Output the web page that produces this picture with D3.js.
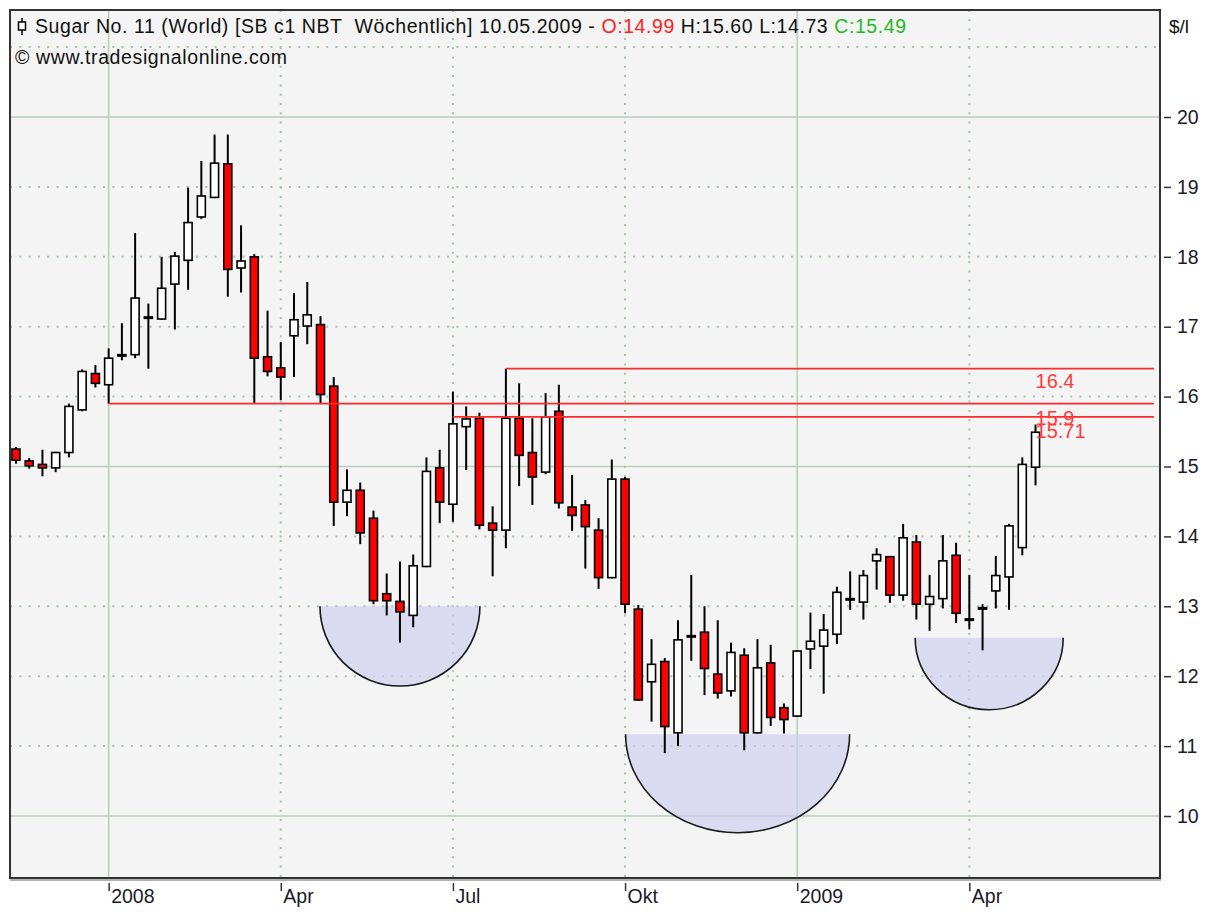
<!DOCTYPE html>
<html>
<head>
<meta charset="utf-8">
<script src="https://cdn.jsdelivr.net/npm/d3@7"></script>
<style>
  body { margin: 0; background: #fff; }
  svg { display: block; font-family: "Liberation Sans", Arial, sans-serif; }
</style>
</head>
<body>
<svg id="chart" width="1205" height="912"></svg>
<script>
// Weekly candles, Sugar No. 11 (index 0 = mid Nov 2007, index 77 = week of 10.05.2009)
var open  = [15.25,15.08,15.03,14.98,15.20,15.81,16.33,16.17,16.58,16.60,17.12,17.11,17.61,17.95,18.57,18.85,19.33,17.84,18.00,16.57,
             16.41,16.87,17.01,17.03,16.15,14.49,14.66,14.26,13.18,13.07,12.87,13.57,14.98,14.46,15.57,15.69,14.19,14.09,15.69,15.20,
             14.92,15.79,14.42,14.45,14.09,13.41,14.82,12.96,11.92,12.21,11.19,12.56,12.63,12.03,11.79,12.30,11.19,12.19,11.55,11.43,
             12.39,12.43,12.60,13.09,13.06,13.65,13.71,13.16,13.92,13.03,13.11,13.73,12.80,12.96,13.22,13.42,13.84,14.99];
var high  = [15.28,15.12,15.24,15.21,15.90,16.39,16.45,16.69,17.05,18.34,17.33,18.00,18.07,18.99,19.37,19.75,19.75,18.45,18.04,17.23,
             16.78,17.48,17.64,17.15,16.28,14.96,14.77,14.37,13.47,13.64,13.74,15.13,15.24,16.07,15.86,15.77,14.43,16.40,16.19,15.69,
             16.05,16.17,14.88,14.52,14.26,15.10,14.85,13.02,12.53,12.26,12.80,13.45,13.00,12.80,12.48,12.40,12.53,12.45,11.61,12.37,
             12.91,12.89,13.28,13.50,13.52,13.83,13.72,14.18,14.02,13.45,14.02,13.91,13.45,13.03,13.72,14.18,15.13,15.60];
var low   = [15.04,14.97,14.86,14.92,15.13,15.79,16.13,15.90,16.52,16.55,16.40,17.10,16.96,17.53,18.54,18.84,17.43,17.49,15.91,16.29,
             15.95,16.28,16.75,15.90,14.15,14.29,13.89,13.03,12.87,12.48,12.70,13.56,14.19,14.21,14.95,14.10,13.43,13.83,14.72,14.45,
             14.89,14.40,14.08,13.54,13.25,13.40,12.90,11.65,11.35,10.90,11.00,12.22,11.73,11.68,11.71,10.94,11.18,11.29,11.18,11.42,
             12.10,11.75,12.46,12.95,12.81,13.24,13.05,13.08,12.81,12.65,12.97,12.76,12.67,12.37,12.97,12.95,13.73,14.73];
var close = [15.09,15.01,14.98,15.20,15.86,16.36,16.19,16.55,16.60,17.41,17.14,17.55,18.01,18.49,18.87,19.34,17.82,17.94,16.55,16.36,
             16.28,17.10,17.17,16.03,14.49,14.66,14.05,13.08,13.08,12.92,13.58,14.93,14.49,15.61,15.68,14.16,14.09,15.69,15.16,14.85,
             15.71,14.48,14.30,14.14,13.41,14.82,13.03,11.66,12.17,11.28,12.52,12.58,12.11,11.76,12.34,11.19,12.12,11.41,11.38,12.36,
             12.50,12.66,13.20,13.11,13.44,13.74,13.16,13.98,13.03,13.14,13.65,12.90,12.82,12.98,13.44,14.15,15.03,15.49];

// axis ticks
var monthTickIndex = [7, 20, 33, 46, 59, 72];
var monthTickLabel = ["2008", "Apr", "Jul", "Okt", "2009", "Apr"];
var monthTickMajor = [true, false, false, false, true, false];
var priceTicks = [10, 11, 12, 13, 14, 15, 16, 17, 18, 19, 20];
var priceGrid  = [10, 11, 12, 13, 14, 15, 16, 17, 18, 19, 20, 21];
var priceMajor = [10, 15, 20];

// horizontal resistance lines: start bar, price, label
var levelStart = [7, 33, 37];
var levelValue = [15.9, 15.71, 16.4];
var levelLabel = ["15.9", "15.71", "16.4"];

// bowl annotations (centre bar, top price, half width in bars, bottom price)
var bowlCenter = [29.0, 54.5, 73.5];
var bowlTop    = [13.0, 11.17, 12.55];
var bowlHalf   = [6.04, 8.46, 5.59];
var bowlBottom = [11.86, 9.76, 11.52];

var svg = d3.select("#chart");
var plot = {left: 10, top: 10, right: 1160, bottom: 878};

var x = d3.scaleLinear().domain([-0.45, 86.4]).range([plot.left, plot.right]);
var y = d3.scaleLinear().domain([9.113, 21.531]).range([plot.bottom, plot.top]);

svg.append("rect")
   .attr("x", plot.left).attr("y", plot.top)
   .attr("width", plot.right - plot.left).attr("height", plot.bottom - plot.top)
   .attr("fill", "#f4f4f4");

// grid
var grid = svg.append("g");
grid.selectAll("line.h").data(priceGrid).enter().append("line")
    .attr("x1", plot.left).attr("x2", plot.right)
    .attr("y1", function(d) { return y(d); })
    .attr("y2", function(d) { return y(d); })
    .attr("stroke", function(d) { return priceMajor.indexOf(d) >= 0 ? "#b9cdb9" : "#a8c4a8"; })
    .attr("stroke-width", function(d) { return priceMajor.indexOf(d) >= 0 ? 1.5 : 2; })
    .attr("stroke-dasharray", function(d) { return priceMajor.indexOf(d) >= 0 ? null : "2,7.3"; });

grid.selectAll("line.v").data(monthTickIndex).enter().append("line")
    .attr("y1", plot.top).attr("y2", plot.bottom)
    .attr("x1", function(d) { return x(d); })
    .attr("x2", function(d) { return x(d); })
    .attr("stroke", function(d, i) { return monthTickMajor[i] ? "#b9cdb9" : "#a8c4a8"; })
    .attr("stroke-width", function(d, i) { return monthTickMajor[i] ? 1.5 : 2; })
    .attr("stroke-dasharray", function(d, i) { return monthTickMajor[i] ? null : "2,7.3"; });

// bowls
var bowls = svg.append("g");
bowlCenter.forEach(function(c, i) {
  var x0 = x(c - bowlHalf[i]), x1 = x(c + bowlHalf[i]);
  var yt = y(bowlTop[i]);
  var rx = (x1 - x0) / 2, ry = y(bowlBottom[i]) - yt;
  var arc = "M" + x0 + "," + yt + " A" + rx + "," + ry + " 0 0 0 " + x1 + "," + yt;
  bowls.append("path").attr("d", arc + " Z")
       .attr("fill", "rgb(205,205,240)").attr("fill-opacity", 0.65);
  bowls.append("path").attr("d", arc)
       .attr("fill", "none").attr("stroke", "#1a1a1a").attr("stroke-width", 1.6);
});

// candles
var idx = d3.range(open.length);
var bw = 8;
var candles = svg.append("g");
candles.selectAll("line.wick").data(idx).enter().append("line")
    .attr("x1", function(i) { return x(i); })
    .attr("x2", function(i) { return x(i); })
    .attr("y1", function(i) { return y(high[i]); })
    .attr("y2", function(i) { return y(low[i]); })
    .attr("stroke", "#000").attr("stroke-width", 2);

candles.selectAll("rect.body").data(idx).enter().append("rect")
    .attr("x", function(i) { return x(i) - bw / 2; })
    .attr("y", function(i) { return y(Math.max(open[i], close[i])); })
    .attr("width", bw)
    .attr("height", function(i) { return Math.max(1, Math.abs(y(open[i]) - y(close[i]))); })
    .attr("fill", function(i) { return close[i] < open[i] ? "#ff0000" : "#ffffff"; })
    .attr("stroke", "#000").attr("stroke-width", 1.6);

// resistance lines
var levels = svg.append("g");
levelValue.forEach(function(v, i) {
  levels.append("line")
        .attr("x1", x(levelStart[i])).attr("x2", plot.right - 6)
        .attr("y1", y(v)).attr("y2", y(v))
        .attr("stroke", "#ff2a2a").attr("stroke-width", 1.6);
});
// labels sit just under their line, as in the original (15.9 and 15.71 crowd each other there)
var labelDy = [21, 21, 19];
levelValue.forEach(function(v, i) {
  levels.append("text")
        .attr("x", x(77)).attr("y", y(v) + labelDy[i])
        .attr("fill", "#ff3b3b").attr("font-size", 20)
        .text(levelLabel[i]);
});

// frame
svg.append("rect")
   .attr("x", plot.left).attr("y", plot.top)
   .attr("width", plot.right - plot.left).attr("height", plot.bottom - plot.top)
   .attr("fill", "none").attr("stroke", "#333").attr("stroke-width", 2);
svg.append("line").attr("x1", plot.left).attr("x2", plot.right + 1)
   .attr("y1", plot.bottom + 2).attr("y2", plot.bottom + 2)
   .attr("stroke", "#999").attr("stroke-width", 1.5);

// right price axis
var yAxis = svg.append("g")
   .attr("transform", "translate(" + (plot.right + 4) + ",0)")
   .call(d3.axisRight(y).tickValues(priceTicks).tickSize(7).tickPadding(6).tickFormat(d3.format("d")));
yAxis.select(".domain").remove();
yAxis.selectAll("line").attr("stroke", "#333").attr("stroke-width", 1.5);
yAxis.selectAll("text").attr("font-size", 19.5).attr("fill", "#1a1a2a")
     .attr("font-family", "Liberation Sans, Arial, sans-serif");

// bottom date axis
var xAxis = svg.append("g")
   .attr("transform", "translate(0," + (plot.bottom + 5) + ")")
   .call(d3.axisBottom(x).tickValues(monthTickIndex).tickSize(8).tickFormat(function(d, i) { return monthTickLabel[i]; }));
xAxis.select(".domain").remove();
xAxis.selectAll("line").attr("stroke", "#333").attr("stroke-width", 1.5);
xAxis.selectAll("text").attr("font-size", 19.5).attr("fill", "#1a1a2a")
     .attr("font-family", "Liberation Sans, Arial, sans-serif")
     .attr("text-anchor", "start").attr("x", 2).attr("y", 6).attr("dy", "0.71em");

// title
var icon = svg.append("g").attr("transform", "translate(22,18)");
icon.append("line").attr("x1", 0).attr("x2", 0).attr("y1", 0).attr("y2", 17)
    .attr("stroke", "#000").attr("stroke-width", 1.5);
icon.append("rect").attr("x", -3.5).attr("y", 4).attr("width", 7).attr("height", 8)
    .attr("fill", "#fff").attr("stroke", "#000").attr("stroke-width", 1.5);

var title = svg.append("text").attr("x", 35).attr("y", 33).attr("font-size", 19.5).attr("fill", "#111")
   .attr("textLength", 871).attr("lengthAdjust", "spacing");
title.append("tspan").text("Sugar No. 11 (World) [SB c1 NBT\u00a0\u00a0Wöchentlich] 10.05.2009 - ");
title.append("tspan").attr("fill", "#ff2020").text("O:14.99");
title.append("tspan").text(" H:15.60 L:14.73 ");
title.append("tspan").attr("fill", "#22bb22").text("C:15.49");

svg.append("text").attr("x", 15).attr("y", 64).attr("font-size", 19.5).attr("fill", "#111")
   .attr("textLength", 272).attr("lengthAdjust", "spacing")
   .text("\u00a9 www.tradesignalonline.com");

svg.append("text").attr("x", 1169).attr("y", 33).attr("font-size", 19).attr("fill", "#111")
   .text("$/l");
</script>
</body>
</html>
